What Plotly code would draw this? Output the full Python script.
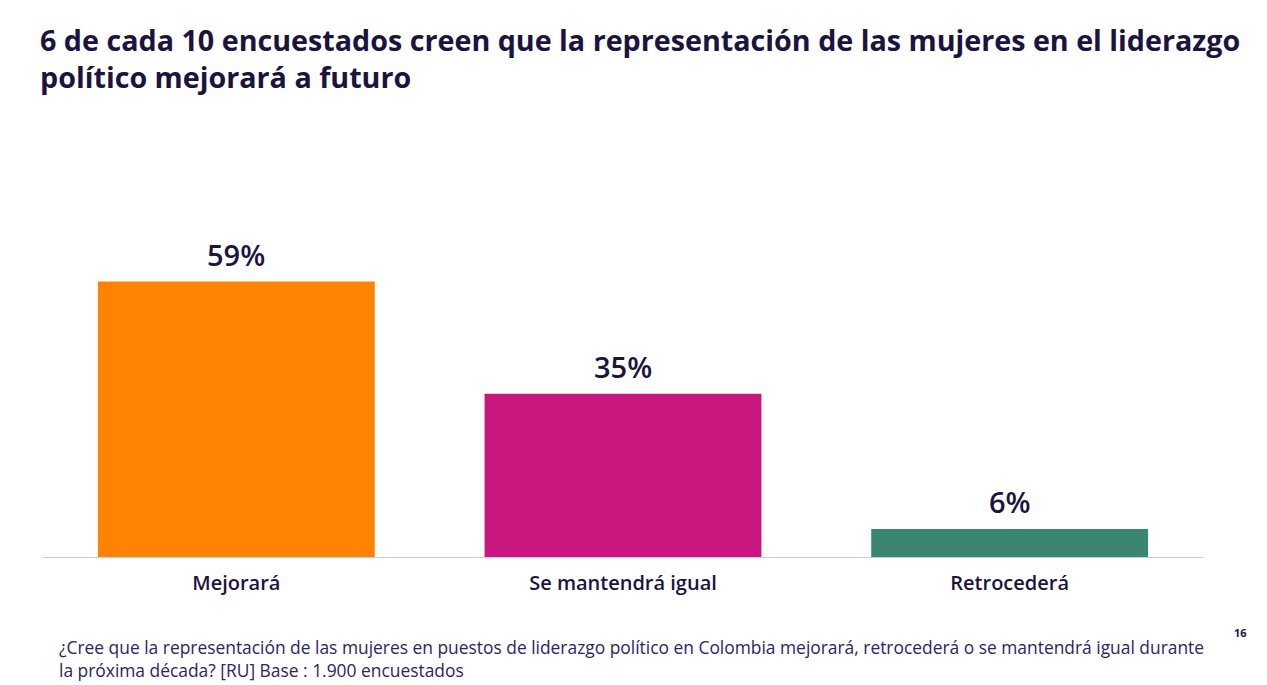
import plotly.graph_objects as go

categories = ["Mejorará", "Se mantendrá igual", "Retrocederá"]
values = [59, 35, 6]
colors = ["#FF8300", "#C8177F", "#3A8670"]

title_text = ("6 de cada 10 encuestados creen que la representación de las mujeres en el liderazgo<br>"
              "político mejorará a futuro")
footer_text = ("¿Cree que la representación de las mujeres en puestos de liderazgo político en Colombia mejorará, retrocederá o se mantendrá igual durante<br>"
               "la próxima década? [RU] Base : 1.900 encuestados")
page_num = "16"

W, H = 1267, 685
ml, mr, mt, mb = 43, 64, 150, 128
ph = H - mt - mb
pw = W - ml - mr

navy = "#1B1340"
FONT = "Open Sans"

fig = go.Figure(go.Bar(
    x=categories, y=values,
    marker=dict(color=colors, line=dict(width=0)),
    width=0.716,
    cliponaxis=False,
))

for c, v in zip(categories, values):
    fig.add_annotation(
        x=c, y=v, xref="x", yref="y", text=f"{v}%", showarrow=False,
        yanchor="bottom", yshift=6,
        font=dict(family=FONT, size=29, color=navy, weight=600),
    )

fig.update_layout(
    width=W, height=H,
    margin=dict(l=ml, r=mr, t=mt, b=mb),
    paper_bgcolor="white", plot_bgcolor="white",
    showlegend=False,
    title=dict(text=f"<b>{title_text}</b>", x=40 / W, xanchor="left", xref="container",
               y=1 - 51 / H, yanchor="top", yref="container",
               font=dict(family=FONT, size=28.7, color=navy)),
    xaxis=dict(showline=True, linecolor="#C9C8EC", linewidth=1, ticks="",
               tickfont=dict(family=FONT, size=20, color=navy, weight=600),
               showgrid=False),
    yaxis=dict(range=[0, 87.2], visible=False, showgrid=False, zeroline=False),
    font=dict(family=FONT),
    bargap=0.284,
)

fig.update_xaxes(ticklabelstandoff=8)

fig.add_annotation(
    text=footer_text, xref="paper", yref="paper",
    x=(57 - ml) / pw, y=(mt + ph - 633) / ph, xanchor="left", yanchor="top",
    align="left", showarrow=False,
    font=dict(family=FONT, size=17.4, color="#2B2466", weight=500),
)
fig.add_annotation(
    text=f"<b>{page_num}</b>", xref="paper", yref="paper",
    x=(1241 - ml) / pw, y=(mt + ph - 632) / ph, xanchor="center", yanchor="middle",
    showarrow=False,
    font=dict(family=FONT, size=11, color=navy),
)

fig.write_html("out.html")
